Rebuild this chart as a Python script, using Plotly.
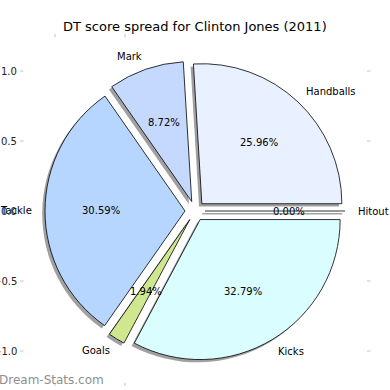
import math
import plotly.graph_objects as go

# ---- data ----
categories = ["Hitout", "Handballs", "Mark", "Tackle", "Goals", "Kicks"]
percentages = [0.00, 25.96, 8.72, 30.59, 1.94, 32.79]
colors = ["#f0f0ff", "#e9f0ff", "#c5d9ff", "#b6d6ff", "#cfe88f", "#dafeff"]
y_tick_values = [1.0, 0.5, 0.0, -0.5, -1.0]
top_tick_values = [-1.0, -0.5]
bottom_tick_values = [-1.0, -0.5]
title_text = "DT score spread for Clinton Jones (2011)"
watermark = "Dream-Stats.com"

# ---- geometry (pixels) ----
W = H = 390
CX, CY = 195.0, 211.0     # pie centre
R = 140.0                 # pie radius (1 data unit)
EXPLODE = 0.0714          # explode as fraction of radius
SHADOW = 2.8              # shadow offset (left, down)
PAD = 2.0                 # annotation box padding compensation
FONT = "DejaVu Sans"


def px(x):
    return x / W


def py(y):
    return 1 - y / H


def fmt_tick(v):
    s = f"{abs(v):.1f}"
    return ("\u2212" + s) if v < 0 else s


# pie domain such that plotly radius == R with pull
half = R * (1 + EXPLODE)

def domain(dx=0.0, dy=0.0):
    return dict(x=[px(CX - half + dx), px(CX + half + dx)],
                y=[py(CY + half + dy), py(CY - half + dy)])

# plotly: draw clockwise from 3 o'clock with reversed order == matplotlib CCW
nz = [i for i, v in enumerate(percentages) if v > 0][::-1]
vals = [percentages[i] for i in nz]
labs = [categories[i] for i in nz]
cols = [colors[i] for i in nz]

fig = go.Figure()
# shadow
fig.add_trace(go.Pie(
    values=vals, labels=labs, sort=False, direction="clockwise",
    rotation=90, pull=EXPLODE, textinfo="none", hoverinfo="skip",
    marker=dict(colors=["rgba(65,65,70,0.5)"] * len(vals),
                line=dict(color="rgba(65,65,70,0.0)", width=0)),
    domain=domain(-SHADOW, SHADOW), showlegend=False))
# main pie
fig.add_trace(go.Pie(
    values=vals, labels=labs, sort=False, direction="clockwise",
    rotation=90, pull=EXPLODE, textinfo="none", hoverinfo="skip",
    marker=dict(colors=cols, line=dict(color="black", width=0.8)),
    domain=domain(), showlegend=False))

annotations = []
shapes = []


def note(x, y, text, xanchor="center", yanchor="middle", size=10,
         color="black"):
    if xanchor == "left":
        x -= PAD
    elif xanchor == "right":
        x += PAD
    annotations.append(dict(
        x=px(x), y=py(y), xref="paper", yref="paper", text=text,
        showarrow=False, xanchor=xanchor, yanchor=yanchor, borderpad=0,
        font=dict(size=size, color=color, family=FONT)))


total = sum(percentages)
start = 0.0
for cat, v in zip(categories, percentages):
    span = 360.0 * v / total
    mid = math.radians(start + span / 2)
    ex = CX + EXPLODE * R * math.cos(mid)
    ey = CY - EXPLODE * R * math.sin(mid)
    if v == 0:
        a = math.radians(start)
        x0, y0 = ex, ey
        x1, y1 = ex + R * math.cos(a), ey - R * math.sin(a)
        shapes.append(dict(type="line", xref="paper", yref="paper",
                           x0=px(x0 - SHADOW), y0=py(y0 + SHADOW),
                           x1=px(x1 - SHADOW), y1=py(y1 + SHADOW),
                           line=dict(color="#a3a3a3", width=1.5)))
        shapes.append(dict(type="line", xref="paper", yref="paper",
                           x0=px(x0), y0=py(y0), x1=px(x1), y1=py(y1),
                           line=dict(color="black", width=0.8)))
    # label at 1.1 r
    lx = ex + 1.1 * R * math.cos(mid)
    ly = ey - 1.1 * R * math.sin(mid)
    note(lx, ly, cat, xanchor="left" if math.cos(mid) > 0 else "right")
    # percentage at 0.6 r
    tx = ex + 0.6 * R * math.cos(mid)
    ty = ey - 0.6 * R * math.sin(mid)
    note(tx, ty, f"{v:.2f}%")
    start += span

# axis ticks and labels
TICK = "#c4c4c4"
for v in y_tick_values:
    y = CY - v * R
    shapes.append(dict(type="line", xref="paper", yref="paper",
                       x0=px(20), x1=px(23.5), y0=py(y), y1=py(y),
                       line=dict(color=TICK, width=1)))
    shapes.append(dict(type="line", xref="paper", yref="paper",
                       x0=px(367), x1=px(370.5), y0=py(y), y1=py(y),
                       line=dict(color=TICK, width=1)))
    note(16.0, y, fmt_tick(v), xanchor="right", color="#222")
for v in top_tick_values:
    x = CX + v * R
    shapes.append(dict(type="line", xref="paper", yref="paper",
                       x0=px(x), x1=px(x), y0=py(34), y1=py(37.5),
                       line=dict(color=TICK, width=1)))
for v in bottom_tick_values:
    x = CX + v * R
    shapes.append(dict(type="line", xref="paper", yref="paper",
                       x0=px(x), x1=px(x), y0=py(382.5), y1=py(386),
                       line=dict(color=TICK, width=1)))
    note(x, 388, fmt_tick(v), yanchor="top", color="#222")

note(195, 26.5, title_text, size=13)
note(0, 380, watermark, xanchor="left", size=12, color="#8f8f8f")

fig.update_layout(
    width=W, height=H, margin=dict(l=0, r=0, t=0, b=0),
    paper_bgcolor="white", plot_bgcolor="white",
    font=dict(family=FONT),
    annotations=annotations, shapes=shapes, showlegend=False)

fig.write_html("out.html",
               config={"displayModeBar": False, "staticPlot": True},
               post_script="document.body.style.margin='0';"
                           "document.body.style.overflow='hidden';")
